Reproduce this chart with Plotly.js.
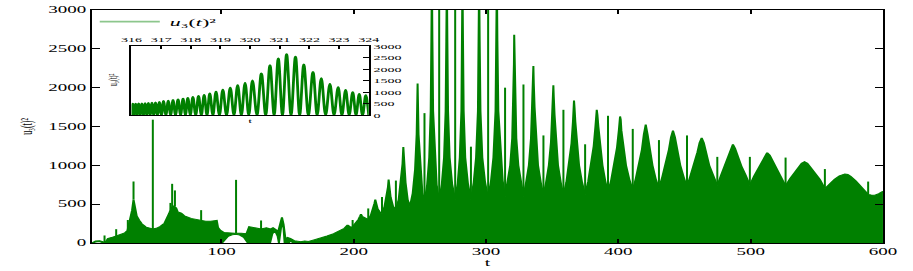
<!DOCTYPE html>
<html><head><meta charset="utf-8">
<script src="https://cdn.plot.ly/plotly-3.0.1.min.js"></script>
<style>
html,body{margin:0;padding:0;overflow:hidden;background:#fff;width:913px;height:271px;}
#chart{width:456px;height:271px;transform:scaleX(2.00219);transform-origin:0 0;}
</style></head><body><div id="chart"></div>
<script>
// ---- main panel: upper envelope of the dense oscillation [t, u3^2]
const upperEnvelope = [
[2.3,0],[3,12],[5,25],[8,28],[10,18],[11.5,10],[13,25],[14.2,58],[17,70],[20,85],[24,110],[27,130],[29,160],[31,280],[32.5,420],[33.6,560],[34.8,420],[36,350],[38,290],[40,245],[43,205],[46,185],[48,180],[51,190],[54,215],[57,255],[59,310],[60.5,380],[62,450],[63.8,480],[65.8,450],[67,400],[69.6,385],[72,350],[77,317],[82,296],[88,280],[92,280],[95,285],[96.5,290],[97.5,200],[99,165],[102,135],[106,128],[110,127],[115,125],[119,120],[121,210],[122.5,205],[126,190],[130,180],[134,195],[137,180],[139,195],[141,170],[143,150],[144.5,250],[145.8,330],[147,240],[148.5,40],[150,70],[152,60],[155,30],[158,20],[160,15],[163,25],[166,20],[170,40],[175,60],[180,90],[185,120],[190,160],[193,190],[195.4,232],[197.5,205],[199.2,210],[201.5,250],[203.5,300],[204.8,345],[205.5,372],[206.3,345],[207.6,330],[209.3,310],[211,300],[213,360],[214.8,440],[215.7,510],[216.3,559],[217,510],[218.1,440],[219.8,400],[221.4,380],[223.3,470],[225,590],[225.9,720],[226.4,817],[226.9,720],[227.9,590],[229.8,470],[231.9,430],[234,560],[235.8,780],[236.9,1020],[237.5,1236],[238.1,1020],[239.2,780],[240.8,560],[242.5,470],[244.6,640],[246.4,950],[247.6,1400],[248.3,2053],[249,1400],[250.3,950],[251.9,650],[253.5,520],
[255.5,750],[257.1,1100],[258.2,1700],[258.7,2600],[259.1,3400],[259.5,2600],[260,1700],[261.1,1100],[262.7,750],[264.6,540],
[266.6,760],[268.3,1100],[269.5,1700],[270,2600],[270.4,3400],[270.8,2600],[271.3,1700],[272.5,1100],[274.4,760],[276.7,560],
[278.6,770],[280.2,1100],[281.4,1700],[281.8,2600],[282.2,3400],[282.6,2600],[283.1,1700],[284.3,1100],[286.3,770],[288.6,560],
[290.7,780],[292.5,1100],[293.9,1700],[294.4,2600],[294.8,3400],[295.2,2600],[295.8,1700],[297.2,1100],[299.3,780],[301.6,580],
[303.8,800],[305.6,1100],[307.2,1700],[307.8,2600],[308.2,3400],[308.6,2600],[309.3,1700],[310.8,1100],[312.6,800],[314.4,600],
[316.3,780],[318.3,1000],[319.8,1350],[320.7,1800],[321.1,2300],[321.3,2680],[321.5,2300],[321.9,1800],[322.9,1350],[324.4,1000],[326.4,780],[328.3,600],
[330.3,780],[332.4,1000],[334,1350],[335,1750],[335.5,2050],[335.8,2278],[336.1,2050],[336.7,1750],[337.7,1350],[339.3,1000],[341.4,780],[343.4,610],
[345.4,780],[347.5,1000],[349.1,1300],[350.1,1650],[350.6,1880],[350.9,2032],[351.2,1880],[351.8,1650],[352.8,1300],[354.4,1000],[356.5,780],[358.5,615],
[360.7,780],[362.9,1000],[364.6,1280],[365.7,1560],[366.2,1740],[366.5,1834],[366.9,1740],[367.5,1560],[368.6,1280],[370.3,1000],[372.6,780],[374.9,625],
[377.2,790],[379.5,1000],[381.4,1250],[382.7,1500],[383.3,1650],[383.7,1715],[384.2,1650],[384.9,1500],[386.1,1250],[388,1000],[390.1,800],[392.2,650],
[394.6,810],[397,1000],[399,1230],[400.4,1450],[400.9,1590],[401.3,1630],[401.8,1590],[402.3,1450],[403.7,1230],[405.8,1000],[408.3,820],[410.9,680],
[413.2,830],[415.6,1000],[417.8,1200],[419.3,1400],[420.7,1524],[422.1,1400],[423.6,1200],[425.8,1000],[428.2,830],[430.7,700],
[433.2,850],[435.8,1000],[438.2,1200],[439.8,1360],[441.3,1448],[442.8,1360],[444.4,1200],[446.8,1000],[449.4,850],[451.9,720],
[454.6,870],[457.3,1000],[459.8,1170],[461.4,1290],[463,1354],[464.6,1290],[466.2,1170],[468.7,1000],[471.7,870],[474.8,740],
[477.6,870],[480.5,990],[483.3,1130],[485,1220],[486.6,1270],[488.2,1220],[490,1130],[493,990],[496.3,870],[499.4,745],
[502.6,860],[505.8,960],[508.8,1060],[510.6,1130],[512.5,1163],[514.4,1130],[516.4,1060],[519.6,960],[523.1,850],[526.4,735],
[529.8,830],[533.3,910],[536.5,980],[538.6,1025],[540.7,1045],[542.8,1025],[545,980],[548.5,910],[552.3,820],[556.1,700],
[559.8,770],[563.5,820],[567.2,865],[569.2,882],[571.2,889],[573.3,882],[575.5,860],[579.5,800],[583.8,720],[588.8,625],
[591,618],[594,615],[597,635],[600,665]
];
// lower envelope (white holes under the oscillation)
const lowerEnvelope = [
[2.3,0],[3,0],[5,14],[8,18],[10,6],[11,0],[100.5,0],[102.5,45],[105,85],[108,105],[111,112],[114,102],[117,72],[119,25],[120,0],
[136.8,0],[138.5,120],[140.5,160],[142.5,90],[143.5,0],[144.5,150],[145.8,285],[147,190],[147.8,0],[151,0],[152.5,40],[154,0],[600,0]
];
// isolated thin spikes [t, base, top]
const spikes = [
[11.7,10,97],[20.5,85,178],[29.3,170,296],[33.6,560,792],[48.2,180,1588],[61.5,430,516],[62.8,450,762],[64.9,470,677],[84.7,290,423],
[111.1,125,813],[130,180,290],[199.2,210,296],[211,300,445],[221.4,380,592],[231.9,430,804],[242.5,470,516],[253.5,520,1672],
[264.6,540,4500],[276.7,560,4500],[288.6,560,1240],[301.6,580,4500],[314.4,600,2000],[328.3,600,2041],[343.4,610,1385],[358.5,615,1715],
[374.9,625,1271],[392.2,650,1638],[410.9,680,1469],[430.7,700,1325],[451.9,720,1385],[474.8,740,1109],[499.4,745,1109],[526.4,735,1100],
[556.1,700,952],[588.8,625,791]
];
// ---- inset (316 <= t <= 324)
const insetPeakT = [316.04,316.14,316.24,316.35,316.46,316.57,316.69,316.81,316.94,317.08,317.24,317.40,317.57,317.74,317.90,318.07,318.26,318.45,318.64,318.85,319.08,319.33,319.58,319.83,320.08,320.38,320.67,320.95,321.23,321.53,321.81,322.12,322.40,322.69,322.97,323.22,323.46,323.68,323.90];
const insetPeakV = [515,520,525,530,535,545,555,570,595,630,650,675,705,735,770,805,850,895,960,1040,1120,1210,1320,1420,1530,1830,2190,2480,2660,2560,2220,1890,1620,1370,1230,1110,1010,935,880];
const insetTroughT = [316.0,316.09,316.19,316.295,316.405,316.515,316.63,316.75,316.875,317.01,317.16,317.32,317.485,317.655,317.82,317.985,318.165,318.355,318.545,318.745,318.965,319.205,319.455,319.705,319.955,320.23,320.525,320.81,321.09,321.38,321.67,321.965,322.26,322.545,322.83,323.095,323.34,323.57,323.79,324.0];
const insetTroughV = 0;

const mainXTicks = [100,200,300,400,500,600];
const mainYTicks = [0,500,1000,1500,2000,2500,3000];
const insetXTicks = [316,317,318,319,320,321,322,323,324];
const insetYTicks = [0,500,1000,1500,2000,2500,3000];

const GREEN = '#008000';
const SERIF = '"Liberation Serif", "DejaVu Serif", "Times New Roman", serif';

const spikeX = [], spikeY = [];
spikes.forEach(s => { spikeX.push(s[0], s[0], null); spikeY.push(s[1], s[2], null); });

const insetPts = insetPeakT.map((t,i)=>[t, insetPeakV[i]]).concat(insetTroughT.map(t=>[t, insetTroughV])).sort((a,b)=>a[0]-b[0]);

const traces = [
  {x: lowerEnvelope.map(p=>p[0]), y: lowerEnvelope.map(p=>p[1]), mode:'lines', line:{color:GREEN, width:1}, showlegend:false, hoverinfo:'skip'},
  {x: upperEnvelope.map(p=>p[0]), y: upperEnvelope.map(p=>p[1]), mode:'lines', fill:'tonexty', fillcolor:GREEN, line:{color:GREEN, width:1}, showlegend:false, hoverinfo:'skip'},
  {x: spikeX, y: spikeY, mode:'lines', line:{color:GREEN, width:1}, showlegend:false, hoverinfo:'skip', connectgaps:false},
  {x: insetPts.map(p=>p[0]), y: insetPts.map(p=>p[1]), xaxis:'x2', yaxis:'y2', mode:'lines', line:{color:GREEN, width:1.4, shape:'spline', smoothing:1}, showlegend:false, hoverinfo:'skip'},
  {x:[null], y:[null], mode:'lines', line:{color:'rgba(0,128,0,0.45)', width:1.8}, name:'<i>u</i>\u2083(<i>t</i>)\u00B2', showlegend:true, hoverinfo:'skip'}
];

const axBase = {showgrid:false, zeroline:false, showline:true, linecolor:'#000', linewidth:1, ticks:'inside', tickcolor:'#000', tickwidth:1};

const layout = {
  width:456, height:271,
  margin:{l:46.1, r:14.5, t:7.3, b:27.7, pad:0},
  paper_bgcolor:'#fff', plot_bgcolor:'#fff',
  font:{family:SERIF, size:9.5, color:'#000'},
  showlegend:true,
  legend:{x:-0.003, y:0.95, xanchor:'left', yanchor:'middle', bgcolor:'rgba(0,0,0,0)', borderwidth:0, font:{family:SERIF, size:11, color:'#000'}, itemwidth:30},
  xaxis:Object.assign({}, axBase, {domain:[0,1], range:[2.3,600], tickvals:mainXTicks, ticktext:mainXTicks.map(String), ticklen:4, mirror:'allticks', tickfont:{size:9.5}, title:{text:'t', font:{size:10}, standoff:1}}),
  yaxis:Object.assign({}, axBase, {domain:[0,1], range:[0,3000], tickvals:mainYTicks, ticktext:mainYTicks.map(String), ticklen:4, mirror:'allticks', tickfont:{size:9.5}, title:{text:'u\u2083(t)\u00B2', font:{size:8}, standoff:6}}),
  xaxis2:Object.assign({}, axBase, {domain:[0.0498,0.3498], anchor:'y2', side:'top', range:[316,324], tickvals:insetXTicks, ticktext:insetXTicks.map(String), ticklen:3, mirror:true, tickfont:{size:7}}),
  yaxis2:Object.assign({}, axBase, {domain:[0.548,0.8445], anchor:'x2', side:'right', range:[0,3000], tickvals:insetYTicks, ticktext:insetYTicks.map(String), ticklen:3, mirror:true, tickfont:{size:7}}),
  annotations:[
    {xref:'paper', yref:'paper', x:0.0286, y:0.70, xanchor:'center', yanchor:'middle', text:'u\u2083(t)\u00B2', textangle:-90, showarrow:false, font:{family:SERIF, size:6}},
    {xref:'paper', yref:'paper', x:0.2005, y:0.522, xanchor:'center', yanchor:'middle', text:'t', showarrow:false, font:{family:SERIF, size:7}}
  ]
};

Plotly.newPlot('chart', traces, layout, {staticPlot:true, displayModeBar:false});
</script></body></html>
